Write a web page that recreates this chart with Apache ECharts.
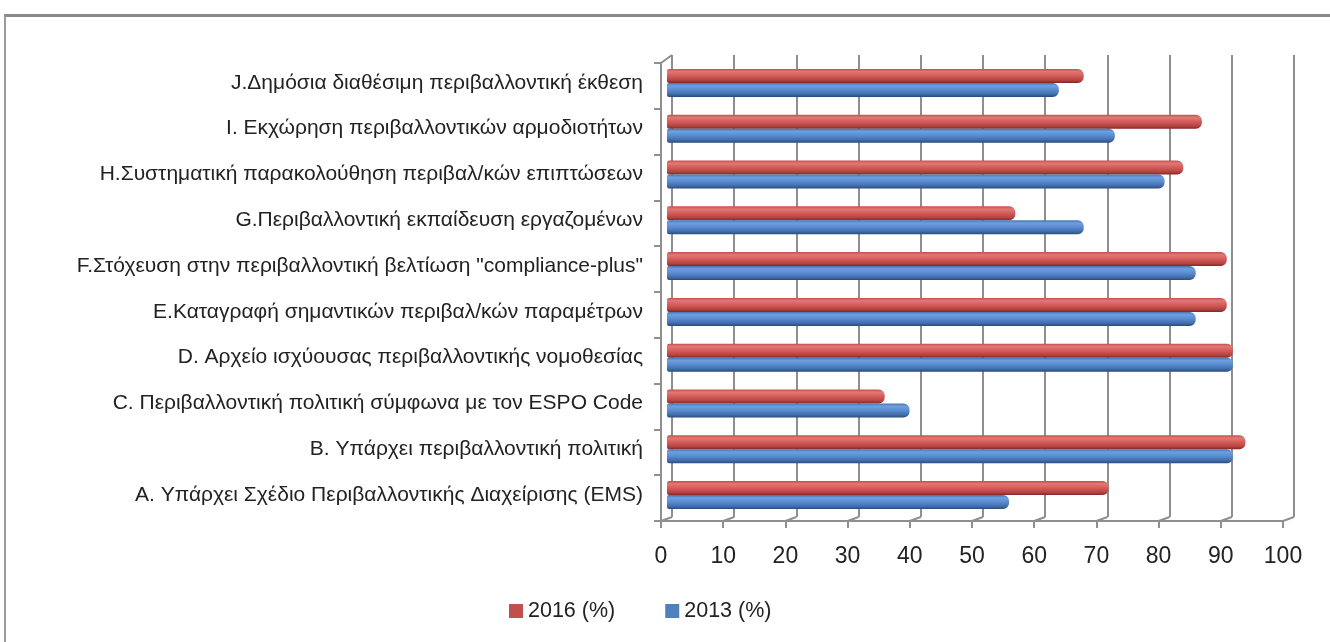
<!DOCTYPE html>
<html>
<head>
<meta charset="utf-8">
<title>chart</title>
<script src="https://cdn.jsdelivr.net/npm/echarts@6/dist/echarts.min.js"></script>
<style>
    html, body { margin: 0; padding: 0; background: #fff; }
    #frame { position: absolute; left: 4px; top: 14px; width: 1340px; height: 640px;
             border-top: 3px solid #8a8a8a; border-left: 2px solid #9a9a9a; }
    #mainPart { position: absolute; left: 0; top: 0; width: 1330px; height: 642px; }
</style>
</head>
<body>
<div id="frame"></div>
<div id="mainPart"></div>
<script>
// κατηγορίες (από κάτω προς τα πάνω)
var categories = [
    'A. Υπάρχει Σχέδιο Περιβαλλοντικής Διαχείρισης (EMS)',
    'B. Υπάρχει περιβαλλοντική πολιτική',
    'C. Περιβαλλοντική πολιτική σύμφωνα με τον ESPO Code',
    'D. Αρχείο ισχύουσας περιβαλλοντικής νομοθεσίας',
    'E.Καταγραφή σημαντικών περιβαλ/κών παραμέτρων',
    'F.Στόχευση στην περιβαλλοντική βελτίωση "compliance-plus"',
    'G.Περιβαλλοντική εκπαίδευση εργαζομένων',
    'H.Συστηματική παρακολούθηση περιβαλ/κών επιπτώσεων',
    'I. Εκχώρηση περιβαλλοντικών αρμοδιοτήτων',
    'J.Δημόσια διαθέσιμη περιβαλλοντική έκθεση'
];
var values2016 = [71, 93, 35, 91, 90, 90, 56, 83, 86, 67];
var values2013 = [55, 91, 39, 91, 85, 85, 67, 80, 72, 63];
var seriesNames = ['2016 (%)', '2013 (%)'];
var xTicks = [0, 100, 10]; // min, max, interval

var FONT = 'Liberation Sans';
var GRID_GRAY = '#8f8f8f';

// κύλινδροι - χρώματα
function cyl(c0, c1, c2, c3, c4) {
    return new echarts.graphic.LinearGradient(0, 0, 0, 1, [
        {offset: 0, color: c0},
        {offset: 0.2, color: c1},
        {offset: 0.5, color: c2},
        {offset: 0.82, color: c3},
        {offset: 1, color: c4}
    ]);
}
var redFill = cyl('#c64e4b', '#e27875', '#d35c59', '#b4423f', '#7d2826');
var blueFill = cyl('#4775b3', '#6e9fe0', '#5a8bd0', '#3f6ca8', '#294a78');

var myChart = echarts.init(document.getElementById('mainPart'));

var option = {
    animation: false,
    textStyle: {fontFamily: FONT},
    legend: {
        data: [
            {name: seriesNames[0], itemStyle: {color: '#c0504d'}},
            {name: seriesNames[1], itemStyle: {color: '#4f81bd'}}
        ],
        left: 504,
        top: 595,
        itemWidth: 14,
        itemHeight: 14,
        itemGap: 50,
        icon: 'rect',
        textStyle: {fontFamily: FONT, fontSize: 21.5, color: '#222'}
    },
    grid: [
        // πίσω τοίχος
        {left: 672, right: 36, top: 55, bottom: 125},
        // ράβδοι
        {left: 667, right: 41, top: 60, bottom: 124},
        // μπροστινοί άξονες
        {left: 661, right: 47, top: 63, bottom: 121}
    ],
    xAxis: [
        {
            gridIndex: 0, type: 'value', min: xTicks[0], max: xTicks[1], interval: xTicks[2],
            axisLine: {show: false}, axisTick: {show: false}, axisLabel: {show: false},
            splitLine: {show: true, lineStyle: {color: GRID_GRAY, width: 2}}
        },
        {
            gridIndex: 1, type: 'value', min: xTicks[0], max: xTicks[1], interval: xTicks[2],
            show: false
        },
        {
            gridIndex: 2, type: 'value', min: xTicks[0], max: xTicks[1], interval: xTicks[2],
            axisLine: {show: true, lineStyle: {color: GRID_GRAY, width: 2}},
            axisTick: {show: true, length: 7, lineStyle: {color: GRID_GRAY, width: 2}},
            axisLabel: {show: true, margin: 24, fontSize: 23, color: '#222', fontFamily: FONT},
            splitLine: {show: false}
        }
    ],
    yAxis: [
        {
            gridIndex: 0, type: 'category', data: categories, show: false
        },
        {
            gridIndex: 1, type: 'category', data: categories,
            axisLine: {show: false}, axisTick: {show: false},
            axisLabel: {show: true, margin: 24, fontSize: 21, color: '#222', fontFamily: FONT}
        },
        {
            gridIndex: 2, type: 'category', data: categories,
            axisLine: {show: true, lineStyle: {color: GRID_GRAY, width: 2}},
            axisTick: {show: true, length: 7, lineStyle: {color: GRID_GRAY, width: 2}},
            axisLabel: {show: false}
        }
    ],
    series: [
        {
            name: seriesNames[0],
            type: 'bar',
            xAxisIndex: 1, yAxisIndex: 1,
            data: values2016,
            barWidth: 14,
            barGap: '0%',
            itemStyle: {color: redFill, borderRadius: [2, 6, 6, 2]}
        },
        {
            name: seriesNames[1],
            type: 'bar',
            xAxisIndex: 1, yAxisIndex: 1,
            data: values2013,
            barWidth: 14,
            barGap: '0%',
            itemStyle: {color: blueFill, borderRadius: [2, 6, 6, 2]}
        }
    ]
};

myChart.setOption(option);

// διαγώνιες του δαπέδου (3Δ) από τις κλίμακες των δύο αξόνων
var floor = [];
var backTicks = [];
for (var v = xTicks[0]; v <= xTicks[1]; v += xTicks[2]) backTicks.push(v);
var bottomCat = categories[0];
var gb = myChart.getModel().getComponent('grid', 0).coordinateSystem.getRect();
var gf = myChart.getModel().getComponent('grid', 2).coordinateSystem.getRect();
for (var i = 0; i < backTicks.length; i++) {
    var back = myChart.convertToPixel({gridIndex: 0}, [backTicks[i], bottomCat]);
    var front = myChart.convertToPixel({gridIndex: 2}, [backTicks[i], bottomCat]);
    floor.push({
        type: 'line',
        shape: {x1: back[0], y1: gb.y + gb.height, x2: front[0], y2: gf.y + gf.height},
        style: {stroke: GRID_GRAY, lineWidth: 2}
    });
}
// πάνω αριστερή γωνία
floor.push({
    type: 'line',
    shape: {x1: gb.x, y1: gb.y, x2: gf.x, y2: gf.y},
    style: {stroke: GRID_GRAY, lineWidth: 2}
});
myChart.setOption({graphic: floor});
</script>
</body>
</html>
